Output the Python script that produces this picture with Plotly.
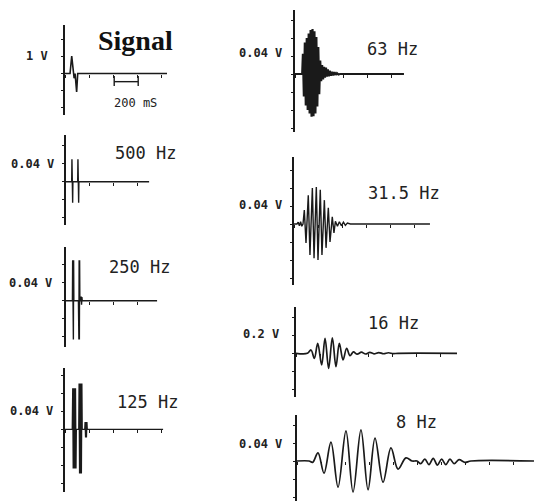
import plotly.graph_objects as go

# ---------------- waveforms (time in ms, amplitude in V) ----------------
signal_ms = [0, 42, 56, 68, 76, 84, 97, 106, 850]
signal_v = [0, 0, 1.02, 0, -0.28, 0, -1.08, 0, 0]

f500_ms = [0, 50, 52, 54, 56, 58, 60, 100, 102, 104, 106, 108, 110, 697]
f500_v = [0, 0, 0.050, -0.047, 0.050, -0.047, 0, 0, 0.050, -0.047, 0.050, -0.047, 0, 0]

f250_ms = [0, 56, 58, 60, 62, 64, 66, 68, 106, 108, 110, 112, 114, 116, 118,
           126, 129, 132, 135, 138, 763]
f250_v = [0, 0, 0.090, -0.086, 0.090, -0.086, 0.090, 0, 0, 0.090, -0.086, 0.090, -0.086, 0.090, 0,
          0, 0.009, -0.009, 0.008, 0, 0]

f125_ms = [0, 60, 64, 68, 72, 76, 80, 84, 88, 92, 95, 114, 117, 121, 125, 129, 133, 137, 141,
           144, 164, 167, 171, 175, 179, 183, 186, 819]
f125_v = [0, 0, 0.091, -0.087, 0.091, -0.087, 0.091, -0.087, 0.091, -0.087, 0, 0,
          0.102, -0.098, 0.102, -0.098, 0.102, -0.098, 0.102, 0, 0,
          0.016, -0.018, 0.016, -0.018, 0.016, 0, 0]

f63_ms = [0, 60, 66, 74, 82, 90, 98, 106, 114, 122, 130, 138, 146, 154, 162, 170, 178, 186,
          194, 202, 210, 218, 226, 234, 242, 250, 258, 266, 274, 282, 290,
          300, 310, 320, 330, 340, 350, 362, 375, 908]
f63_v = [0, 0, 0.045, -0.050, 0.070, -0.070, 0.080, -0.080, 0.090, -0.088, 0.098, -0.095,
         0.100, -0.094, 0.095, -0.088, 0.082, -0.072, 0.060, -0.045, 0.030, -0.016, 0.020,
         -0.012, 0.016, -0.008, 0.014, -0.006, 0.010, -0.005, 0.007,
         -0.004, 0.005, -0.003, 0.004, -0.002, 0.002, -0.001, 0, 0]

f31_ms = [0, 25, 35, 45, 55, 65, 75, 86, 100, 119, 133, 153, 167, 186, 200, 219, 233, 253,
          267, 286, 300, 319, 333, 345, 362, 378, 395, 412, 428, 445, 470, 1133]
f31_v = [0, 0, 0.004, -0.004, 0.005, -0.005, 0, 0.031, -0.042, 0.064, -0.069, 0.080, -0.076,
         0.082, -0.080, 0.076, -0.069, 0.053, -0.053, 0.036, -0.040, 0.016, -0.020,
         0.006, -0.005, 0.005, -0.004, 0.004, -0.003, 0.002, 0, 0]

f16_ms = [0, 95, 125, 153, 181, 214, 242, 272, 303, 333, 361, 392, 422, 450, 478,
          510, 545, 580, 615, 650, 690, 730, 770, 810, 850, 1342]
f16_v = [0, 0, 0.037, -0.056, 0.111, -0.130, 0.167, -0.167, 0.173, -0.149, 0.111, -0.074,
         0.056, -0.027, 0.015, -0.010, 0.012, -0.008, 0.010, -0.006, 0.008, -0.005, 0.006,
         -0.004, 0, 0]

f8_ms = [0, 100, 130, 175, 225, 283, 342, 408, 467, 533, 592, 650, 717, 783, 842, 908, 960,
         1000, 1030, 1065, 1100, 1135, 1170, 1205, 1240, 1275, 1310, 1350, 1400, 1450, 1975]
f8_v = [0, 0, -0.003, 0.018, -0.027, 0.042, -0.058, 0.067, -0.069, 0.069, -0.064, 0.051,
        -0.047, 0.029, -0.018, 0.007, 0, 0, -0.006, 0.004, -0.008, 0.006, -0.009, 0.004,
        -0.008, 0.004, -0.006, 0.003, -0.003, 0, 0]

# panel titles and vertical scale labels
titles = ["Signal", "500 Hz", "250 Hz", "125 Hz", "63 Hz", "31.5 Hz", "16 Hz", "8 Hz"]
scale_units = [1.0, 0.04, 0.04, 0.04, 0.04, 0.04, 0.2, 0.04]
scale_labels = ["1 V", "0.04 V", "0.04 V", "0.04 V", "0.04 V", "0.04 V", "0.2 V", "0.04 V"]

# time scale bar
bar_ms = [410, 610]
bar_label = "200 mS"
tick_step_ms = 200

series = [(signal_ms, signal_v), (f500_ms, f500_v), (f250_ms, f250_v), (f125_ms, f125_v),
          (f63_ms, f63_v), (f31_ms, f31_v), (f16_ms, f16_v), (f8_ms, f8_v)]

# ---------------- page geometry (pixels) ----------------
W, H = 534, 501
PX_PER_MS = 0.12
INK = "#1a1a1a"

# axis x, axis top, axis bottom, baseline y, trace end x, px per unit,
# label right edge, label y shift, title centre x, title centre y
geom = [
    (65, 25, 115, 73.5, 167, 17, 50, 0, 135, 40),
    (65.7, 135, 225, 181.7, 149.3, 18, 56, 0, 145.5, 153),
    (65.7, 247, 347, 300.7, 157.3, 18, 54, 0, 139.5, 267),
    (65, 368, 492, 429.3, 163.3, 18, 55, 0, 147.5, 402),
    (295, 10, 132, 74, 404, 18, 284, 3, 392, 49),
    (294, 157, 285, 224, 430, 18, 284, 1, 403.5, 193),
    (296, 307, 397, 353.3, 457, 18, 281, 1, 393, 323),
    (297, 415, 501, 461, 534, 18, 284, -1, 416, 422),
]
splined = [False, False, False, False, False, False, True, True]
widths = [1.6, 1.4, 1.4, 1.2, 2.2, 1.4, 1.7, 1.7]

fig = go.Figure()
layout = {}
annotations = []

for i, ((t, v), g) in enumerate(zip(series, geom), start=1):
    ax, top, bot, base, end, ppu, lab_r, lab_dy, tcx, tcy = g
    unit = scale_units[i - 1]
    xname = "x" if i == 1 else f"x{i}"
    yname = "y" if i == 1 else f"y{i}"
    xkey = "xaxis" if i == 1 else f"xaxis{i}"
    ykey = "yaxis" if i == 1 else f"yaxis{i}"

    fig.add_trace(go.Scatter(
        x=t, y=v, mode="lines", xaxis=xname, yaxis=yname,
        line=dict(color=INK, width=widths[i - 1],
                  shape="spline" if splined[i - 1] else "linear"),
        hoverinfo="skip", showlegend=False))

    layout[xkey] = dict(
        domain=[ax / W, min(end / W, 1.0)], range=[0, (end - ax) / PX_PER_MS],
        anchor="free", position=1 - base / H,
        showline=False, showgrid=False, zeroline=False,
        ticks="outside", ticklen=3, tickwidth=1.2, tickcolor=INK,
        tick0=0, dtick=tick_step_ms, showticklabels=False, fixedrange=True)
    layout[ykey] = dict(
        domain=[max(1 - bot / H, 0.0), 1 - top / H],
        range=[-(bot - base) / ppu * unit, (base - top) / ppu * unit],
        anchor=xname, showline=True, linecolor=INK, linewidth=2,
        ticks="outside", ticklen=2, tickwidth=1, tickcolor=INK,
        tick0=0, dtick=unit, showticklabels=False,
        showgrid=False, zeroline=False, fixedrange=True)

    annotations.append(dict(
        text=f"<b>{scale_labels[i - 1]}</b>", xref="paper", yref=yname,
        x=lab_r / W, y=unit, xanchor="right", yanchor="middle", yshift=lab_dy,
        showarrow=False, font=dict(family="DejaVu Sans Mono", size=12, color="#222")))

    if i == 1:
        annotations.append(dict(
            text=f"<b>{titles[0]}</b>", xref="paper", yref="paper",
            x=tcx / W, y=1 - tcy / H, xanchor="center", yanchor="middle",
            showarrow=False, font=dict(family="Liberation Serif", size=28, color="#111")))
    else:
        annotations.append(dict(
            text=titles[i - 1], xref="paper", yref="paper",
            x=tcx / W, y=1 - tcy / H, xanchor="center", yanchor="middle",
            showarrow=False, font=dict(family="DejaVu Sans Mono", size=17, color="#222")))

# 200 ms scale bar in the signal panel
b0, b1 = bar_ms
fig.add_trace(go.Scatter(
    x=[b0, b0, None, b0, b1, None, b1, b1],
    y=[-0.15, -0.74, None, -0.48, -0.48, None, -0.15, -0.74],
    mode="lines", xaxis="x", yaxis="y", line=dict(color=INK, width=1.4),
    hoverinfo="skip", showlegend=False))
annotations.append(dict(
    text=bar_label, xref="x", yref="y", x=b1 - 25, y=-1.72,
    xanchor="center", yanchor="middle", showarrow=False,
    font=dict(family="DejaVu Sans Mono", size=12, color="#222")))

fig.update_layout(
    width=W, height=H, margin=dict(l=0, r=0, t=0, b=0),
    paper_bgcolor="white", plot_bgcolor="rgba(0,0,0,0)",
    annotations=annotations, showlegend=False, **layout)

fig.write_html("out.html", config={"displayModeBar": False})
